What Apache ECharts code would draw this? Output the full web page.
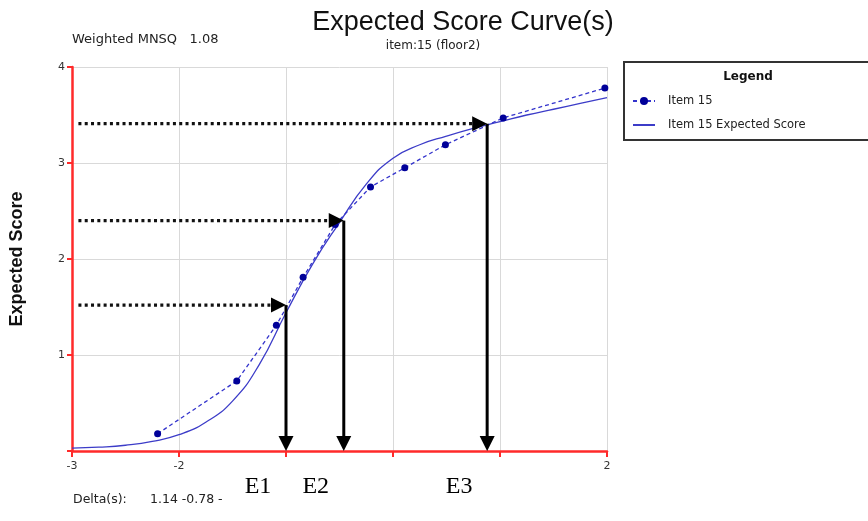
<!DOCTYPE html>
<html>
<head>
<meta charset="utf-8">
<script src="https://cdn.jsdelivr.net/npm/echarts@6/dist/echarts.min.js"></script>
<style>
html,body{margin:0;padding:0;background:#fff;}
#chart{width:868px;height:521px;}
</style>
</head>
<body>
<div id="chart"></div>
<script>
// ---- data ----
const observedTheta = [-2.20, -1.46, -1.09, -0.84, -0.54, -0.21, 0.11, 0.49, 1.03, 1.98];
const observedScore = [0.18, 0.73, 1.31, 1.81, 2.36, 2.75, 2.95, 3.19, 3.47, 3.78];
const curveTheta = [-3.0, -2.75, -2.5, -2.25, -2.0, -1.75, -1.5, -1.25, -1.0, -0.75, -0.5, -0.25, 0.0, 0.25, 0.5, 0.75, 1.0, 1.25, 1.5, 1.75, 2.0];
const curveScore = [0.03, 0.04, 0.06, 0.10, 0.17, 0.30, 0.52, 0.90, 1.44, 1.95, 2.38, 2.78, 3.05, 3.19, 3.28, 3.36, 3.43, 3.50, 3.56, 3.62, 3.68];
const thresholdTheta = [-1.00, -0.46, 0.88];
const thresholdScore = [1.52, 2.40, 3.41];
const thresholdLabels = ['E1', 'E2', 'E3'];
const guideStartTheta = -2.94;
const xLabelValues = [-3, -2, 2];
const yLabelValues = [1, 2, 3, 4];
const seriesNames = ['Item 15', 'Item 15 Expected Score'];

const SANS = '"DejaVu Sans", sans-serif';
const chart = echarts.init(document.getElementById('chart'), null, {renderer: 'canvas'});

const observedData = observedTheta.map((t, i) => [t, observedScore[i]]);
const curveData = curveTheta.map((t, i) => [t, curveScore[i]]);
const thresholdData = thresholdTheta.map((t, i) => [t, thresholdScore[i], thresholdLabels[i]]);

const option = {
  backgroundColor: '#ffffff',
  animation: false,
  grid: {left: 72, right: 261, top: 67, bottom: 70, containLabel: false},
  xAxis: {
    type: 'value', min: -3, max: 2, interval: 1,
    axisLine: {show: true, onZero: false, lineStyle: {color: '#ff2a2a', width: 2.5}},
    axisTick: {show: true, length: 6, lineStyle: {color: '#ff2a2a', width: 2}},
    axisLabel: {
      margin: 10, fontSize: 11, color: '#333', fontFamily: SANS,
      formatter: v => xLabelValues.indexOf(v) >= 0 ? String(v) : ''
    },
    splitLine: {show: true, lineStyle: {color: '#d9d9d9', width: 1}}
  },
  yAxis: {
    type: 'value', min: 0, max: 4, interval: 1,
    name: 'Expected Score', nameLocation: 'middle', nameGap: 46,
    nameTextStyle: {fontSize: 18, fontWeight: 'bold', color: '#111', fontFamily: '"Liberation Sans", Arial, sans-serif'},
    axisLine: {show: true, onZero: false, lineStyle: {color: '#ff2a2a', width: 2.5}},
    axisTick: {show: true, length: 5, lineStyle: {color: '#ff2a2a', width: 2}},
    axisLabel: {
      margin: 7, fontSize: 11, color: '#333', fontFamily: SANS,
      formatter: v => yLabelValues.indexOf(v) >= 0 ? String(v) : ''
    },
    splitLine: {show: true, lineStyle: {color: '#d9d9d9', width: 1}}
  },
  legend: {
    orient: 'vertical', left: 627, top: 90,
    itemWidth: 22, itemHeight: 10, itemGap: 12,
    textStyle: {fontSize: 11.5, color: '#222', fontFamily: SANS, padding: [0, 0, 0, 8]},
    data: [
      {name: seriesNames[0]},
      {name: seriesNames[1], itemStyle: {opacity: 0, color: 'rgba(0,0,0,0)'}}
    ]
  },
  graphic: [
    {type: 'text', x: 463, y: 23, style: {text: 'Expected Score Curve(s)', align: 'center', verticalAlign: 'middle', font: '27px "Liberation Sans", Arial, sans-serif', fill: '#111'}},
    {type: 'text', x: 433, y: 46, style: {text: 'item:15 (floor2)', align: 'center', verticalAlign: 'middle', font: '12px ' + SANS, fill: '#222'}},
    {type: 'text', x: 72, y: 40, style: {text: 'Weighted MNSQ   1.08', align: 'left', verticalAlign: 'middle', font: '13px ' + SANS, fill: '#222'}},
    {type: 'text', x: 73, y: 500, style: {text: 'Delta(s):', align: 'left', verticalAlign: 'middle', font: '12.5px ' + SANS, fill: '#222'}},
    {type: 'text', x: 150, y: 500, style: {text: '1.14 -0.78 -', align: 'left', verticalAlign: 'middle', font: '12.5px ' + SANS, fill: '#222'}},
    {type: 'rect', shape: {x: 624, y: 62, width: 260, height: 78}, style: {fill: 'none', stroke: '#333', lineWidth: 2}},
    {type: 'text', x: 748, y: 77, style: {text: 'Legend', align: 'center', verticalAlign: 'middle', font: 'bold 12px ' + SANS, fill: '#111'}}
  ],
  series: [
    {
      name: seriesNames[0], type: 'line', data: observedData,
      symbol: 'circle', symbolSize: 7,
      itemStyle: {color: '#000099'},
      lineStyle: {color: '#3333cc', width: 1.3, type: [4, 3]},
      z: 4
    },
    {
      name: seriesNames[1], type: 'line', data: curveData,
      smooth: 0.5,
      showSymbol: false, symbol: 'none',
      itemStyle: {color: '#3c3cc8'},
      lineStyle: {color: '#3c3cc8', width: 1.3},
      z: 3
    },
    {
      name: 'thresholds', type: 'custom', data: thresholdData, z: 5,
      encode: {x: 0, y: 1},
      renderItem: function (params, api) {
        const th = api.value(0), lv = api.value(1);
        const tip = api.coord([th, lv]);
        const start = api.coord([guideStartTheta, lv]);
        const base = api.coord([th, 0]);
        const ah = 15, aw = 7.5;
        return {
          type: 'group',
          children: [
            {type: 'line', shape: {x1: start[0], y1: tip[1], x2: tip[0] - ah, y2: tip[1]},
              style: {stroke: '#111', lineWidth: 3.2, lineDash: [3, 3.3]}},
            {type: 'polygon', shape: {points: [[tip[0] - ah, tip[1] - aw], [tip[0], tip[1]], [tip[0] - ah, tip[1] + aw]]},
              style: {fill: '#000'}},
            {type: 'line', shape: {x1: tip[0], y1: tip[1], x2: base[0], y2: base[1] - ah + 1},
              style: {stroke: '#000', lineWidth: 3}},
            {type: 'polygon', shape: {points: [[base[0] - aw, base[1] - ah], [base[0], base[1]], [base[0] + aw, base[1] - ah]]},
              style: {fill: '#000'}},
            {type: 'text', x: base[0] - 28, y: base[1] + 36,
              style: {text: api.value(2), align: 'center', verticalAlign: 'middle', font: '24px "Liberation Serif", "Times New Roman", serif', fill: '#000'}}
          ]
        };
      }
    }
  ]
};
chart.setOption(option);
</script>
</body>
</html>
